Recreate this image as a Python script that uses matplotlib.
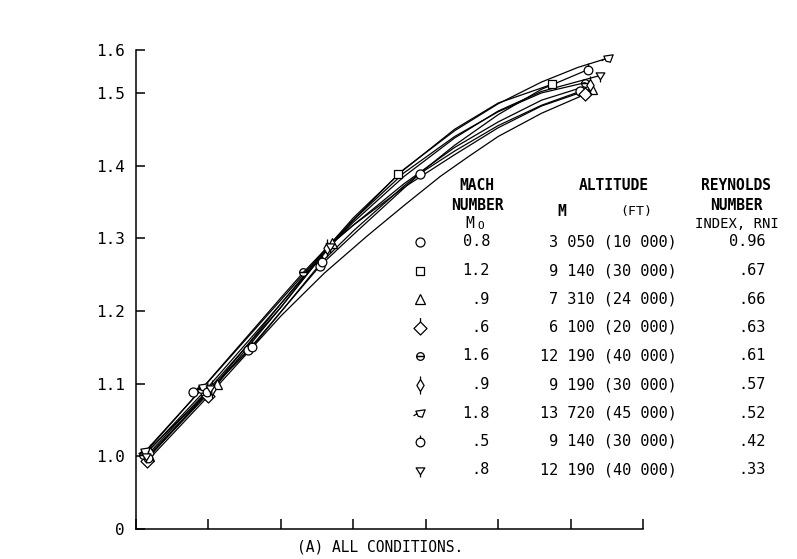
import numpy as np
import matplotlib
matplotlib.use("Agg")
import matplotlib.pyplot as plt
from matplotlib.path import Path

plt.rcParams['font.family'] = ['DejaVu Sans Mono', 'DejaVu Sans']

# ---------------- data ----------------
mach_labels = ["0.8", "1.2", ".9", ".6", "1.6", ".9", "1.8", ".5", ".8"]
alt_labels = ["3 050 (10 000)", "9 140 (30 000)", "7 310 (24 000)", "6 100 (20 000)",
              "12 190 (40 000)", "9 190 (30 000)", "13 720 (45 000)", "9 140 (30 000)",
              "12 190 (40 000)"]
rni_labels = ["0.96", ".67", ".66", ".63", ".61", ".57", ".52", ".42", ".33"]

# faired curves (line traces)
s1_line_x = [0.12, 1.0, 1.55, 2.54, 3.0, 3.92, 4.4, 5.0, 5.6, 6.13]
s1_line_y = [1.003, 1.090, 1.146, 1.262, 1.305, 1.389, 1.420, 1.455, 1.483, 1.502]
s2_line_x = [0.15, 0.95, 2.0, 3.0, 3.62, 4.4, 5.0, 5.75]
s2_line_y = [1.005, 1.090, 1.210, 1.325, 1.388, 1.450, 1.486, 1.512]
s3_line_x = [0.18, 1.12, 2.0, 2.71, 3.0, 3.7, 4.4, 5.0, 5.6, 6.30]
s3_line_y = [1.000, 1.099, 1.205, 1.294, 1.318, 1.370, 1.415, 1.452, 1.482, 1.506]
s4_line_x = [0.15, 1.0, 2.0, 2.6, 3.19, 3.7, 4.2, 4.6, 5.0, 5.6, 6.20]
s4_line_y = [0.993, 1.083, 1.193, 1.252, 1.303, 1.345, 1.385, 1.413, 1.440, 1.472, 1.498]
s5_line_x = [0.10, 0.9, 2.0, 2.31, 3.0, 3.7, 4.4, 5.0, 5.6, 6.20]
s5_line_y = [1.002, 1.092, 1.218, 1.253, 1.325, 1.390, 1.440, 1.474, 1.500, 1.514]
s6_line_x = [0.20, 1.05, 2.0, 2.64, 3.0, 3.7, 4.4, 5.0, 5.6, 6.27]
s6_line_y = [1.004, 1.093, 1.210, 1.287, 1.318, 1.375, 1.425, 1.460, 1.490, 1.511]
s7_line_x = [0.13, 0.93, 2.0, 3.0, 3.7, 4.4, 5.0, 5.6, 6.1, 6.52]
s7_line_y = [1.007, 1.095, 1.215, 1.328, 1.395, 1.448, 1.485, 1.515, 1.535, 1.548]
s8_line_x = [0.17, 0.98, 1.6, 2.57, 3.0, 3.7, 4.4, 5.0, 5.6, 6.24]
s8_line_y = [0.998, 1.088, 1.150, 1.268, 1.310, 1.372, 1.428, 1.470, 1.505, 1.532]
s9_line_x = [0.14, 1.02, 2.0, 2.68, 3.0, 3.7, 4.4, 5.0, 5.6, 6.41]
s9_line_y = [1.000, 1.094, 1.205, 1.290, 1.322, 1.385, 1.438, 1.475, 1.502, 1.524]

# measured points (symbols)
s1_pt_x = [0.12, 0.79, 1.55, 2.54, 3.92, 6.13]
s1_pt_y = [1.003, 1.088, 1.146, 1.262, 1.389, 1.502]
s2_pt_x = [0.15, 0.95, 3.62, 5.75]
s2_pt_y = [1.005, 1.090, 1.388, 1.512]
s3_pt_x = [0.18, 1.12, 2.71, 6.30]
s3_pt_y = [1.000, 1.099, 1.294, 1.506]
s4_pt_x = [0.15, 1.0, 6.20]
s4_pt_y = [0.993, 1.083, 1.498]
s5_pt_x = [0.10, 0.9, 2.31, 6.20]
s5_pt_y = [1.002, 1.092, 1.253, 1.514]
s6_pt_x = [0.20, 1.05, 2.64, 6.27]
s6_pt_y = [1.004, 1.093, 1.287, 1.511]
s7_pt_x = [0.13, 0.93, 6.52]
s7_pt_y = [1.007, 1.095, 1.548]
s8_pt_x = [0.17, 0.98, 1.6, 2.57, 6.24]
s8_pt_y = [0.998, 1.088, 1.150, 1.268, 1.532]
s9_pt_x = [0.14, 1.02, 2.68, 6.41]
s9_pt_y = [1.000, 1.094, 1.290, 1.524]

y_tick_vals = [0.9, 1.0, 1.1, 1.2, 1.3, 1.4, 1.5, 1.559]
y_tick_labels = ["0", "1.0", "1.1", "1.2", "1.3", "1.4", "1.5", "1.6"]
x_tick_vals = [0, 1, 2, 3, 4, 5, 6, 7]

# ---------------- markers ----------------
M, L, C = Path.MOVETO, Path.LINETO, Path.CLOSEPOLY

def flagged(base, flag):
    return Path.make_compound_path(base, Path(flag, [M, L]))

circ = Path.unit_circle()
diamond = Path([[0, -1], [1, 0], [0, 1], [-1, 0], [0, -1]], [M, L, L, L, C])
thin_d = Path([[0, -1], [0.6, 0], [0, 1], [-0.6, 0], [0, -1]], [M, L, L, L, C])
tri_dn = Path([[-1, 0.6], [1, 0.6], [0, -1], [-1, 0.6]], [M, L, L, C])
quad = Path([[-1, 0.5], [1, 0.8], [0.4, -0.8], [-0.5, -0.6], [-1, 0.5]], [M, L, L, L, C])

mk_diamond_flag = flagged(diamond, [[0, 1], [0, 1.6]])
mk_thin_flags = Path.make_compound_path(thin_d, Path([[0, 1], [0, 1.5]], [M, L]),
                                        Path([[0, -1], [0, -1.5]], [M, L]))
mk_quad_flag = flagged(quad, [[-0.8, -0.1], [-1.5, -0.5]])
mk_circ_flag = flagged(circ, [[0, 1], [0, 1.6]])
mk_tri_flag = flagged(tri_dn, [[0, -1], [0, -1.6]])

styles = [
    dict(marker='o', ms=6.5),
    dict(marker='s', ms=5.5),
    dict(marker='^', ms=6.5),
    dict(marker=mk_diamond_flag, ms=15),
    dict(marker='o', ms=5.5, fillstyle='bottom'),
    dict(marker=mk_thin_flags, ms=13),
    dict(marker=mk_quad_flag, ms=10),
    dict(marker=mk_circ_flag, ms=10),
    dict(marker=mk_tri_flag, ms=10),
]

lines = [(s1_line_x, s1_line_y), (s2_line_x, s2_line_y), (s3_line_x, s3_line_y),
         (s4_line_x, s4_line_y), (s5_line_x, s5_line_y), (s6_line_x, s6_line_y),
         (s7_line_x, s7_line_y), (s8_line_x, s8_line_y), (s9_line_x, s9_line_y)]
pts = [(s1_pt_x, s1_pt_y), (s2_pt_x, s2_pt_y), (s3_pt_x, s3_pt_y),
       (s4_pt_x, s4_pt_y), (s5_pt_x, s5_pt_y), (s6_pt_x, s6_pt_y),
       (s7_pt_x, s7_pt_y), (s8_pt_x, s8_pt_y), (s9_pt_x, s9_pt_y)]

# ---------------- figure ----------------
W, H = 797, 559
fig = plt.figure(figsize=(W / 100, H / 100), dpi=100)
ax_l, ax_r, ax_t, ax_b = 136, 643, 50, 529
ax = fig.add_axes([ax_l / W, 1 - ax_b / H, (ax_r - ax_l) / W, (ax_b - ax_t) / H])

for (lx, ly), (px, py), st in zip(lines, pts, styles):
    ax.plot(lx, ly, color='black', lw=0.9, zorder=2)
    ax.plot(px, py, linestyle='none', color='black', mfc='white', mec='black',
            mew=0.9, zorder=3, **st)

ax.set_xlim(0, 7)
ax.set_ylim(0.9, 1.559)
ax.set_xticks(x_tick_vals)
ax.set_xticklabels([])
ax.set_yticks(y_tick_vals)
ax.set_yticklabels(y_tick_labels)
for s in ['top', 'right']:
    ax.spines[s].set_visible(False)
for s in ['left', 'bottom']:
    ax.spines[s].set_linewidth(1.1)
ax.tick_params(axis='x', direction='in', length=7, width=1.1)
ax.tick_params(axis='y', direction='in', length=6.5, width=1.1, pad=8, labelsize=11.5)

# ---------------- table (legend) ----------------
def ft(x, y, s, **kw):
    fig.text(x / W, 1 - y / H, s, va='center', **kw)

fs = 10.5
ft(477, 185, "MACH", ha='center', fontsize=fs, fontweight='bold')
ft(477, 205, "NUMBER", ha='center', fontsize=fs, fontweight='bold')
ft(470, 224, "M", ha='center', fontsize=fs)
ft(481, 226, "O", ha='center', fontsize=8)
ft(614, 186, "ALTITUDE", ha='center', fontsize=fs, fontweight='bold')
ft(562, 212, "M", ha='center', fontsize=fs, fontweight='bold')
ft(636, 212, "(FT)", ha='center', fontsize=9.5)
ft(736, 186, "REYNOLDS", ha='center', fontsize=fs, fontweight='bold')
ft(736, 205, "NUMBER", ha='center', fontsize=fs, fontweight='bold')
ft(737, 224, "INDEX, RNI", ha='center', fontsize=10)

fs2 = 11
row0, dy = 242, 28.5
for i, (m, a, r, st) in enumerate(zip(mach_labels, alt_labels, rni_labels, styles)):
    yy = row0 + i * dy
    ft(490, yy, m, ha='right', fontsize=fs2)
    ft(677, yy, a, ha='right', fontsize=fs2)
    ft(766, yy, r, ha='right', fontsize=fs2)
    fig.lines.append(plt.Line2D([420 / W], [1 - yy / H], transform=fig.transFigure,
                                linestyle='none', color='black', mfc='white', mec='black',
                                mew=0.9, **st))

ft(380, 547, "(A) ALL CONDITIONS.", ha='center', fontsize=10.5)

fig.savefig("out.png", dpi=100)
